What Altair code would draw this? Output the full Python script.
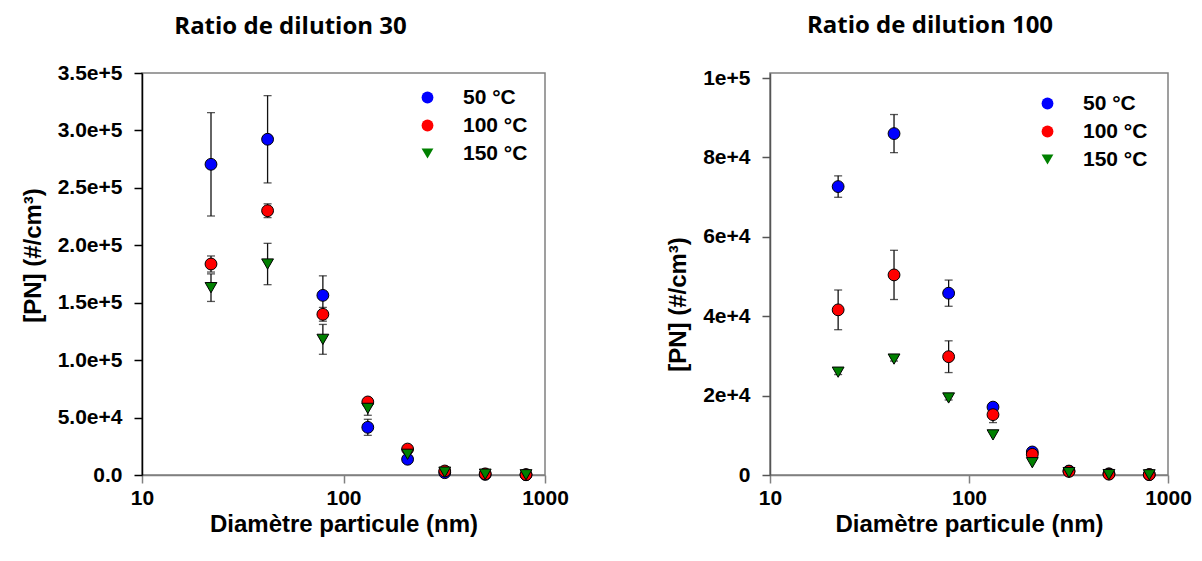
import altair as alt
import pandas as pd

# ---------------- data ----------------
diam = [22, 42, 79, 132, 208, 318, 505, 805]
series = ["50 °C", "100 °C", "150 °C"]
colors = ["#0000ff", "#ff0000", "#008000"]
shapes = ["circle", "circle", "triangle-down"]

# Ratio de dilution 30
dr30_50 = [270500, 292300, 156400, 41500, 13700, 2000, 500, 200]
dr30_100 = [183700, 230100, 139900, 63600, 22600, 3500, 1000, 300]
dr30_150 = [163100, 183700, 118100, 58000, 18000, 2500, 700, 200]
dr30_err50 = [45000, 38000, 17000, 7000, 2000, 0, 0, 0]
dr30_err100 = [7000, 6000, 6000, 3000, 1500, 0, 0, 0]
dr30_err150 = [12000, 18000, 13000, 6000, 0, 0, 0, 0]

# Ratio de dilution 100
dr100_50 = [72650, 86000, 45800, 17100, 5800, 1000, 300, 100]
dr100_100 = [41600, 50400, 29800, 15200, 5200, 900, 200, 100]
dr100_150 = [25900, 29200, 19400, 10100, 3100, 600, 100, 50]
dr100_err50 = [2700, 4800, 3300, 1000, 0, 0, 0, 0]
dr100_err100 = [5000, 6200, 4000, 2000, 0, 0, 0, 0]
dr100_err150 = [600, 500, 500, 0, 0, 0, 0, 0]

y30_ticks = [0, 50000, 100000, 150000, 200000, 250000, 300000, 350000]
y30_labels = ["0.0", "5.0e+4", "1.0e+5", "1.5e+5", "2.0e+5", "2.5e+5", "3.0e+5", "3.5e+5"]
y100_ticks = [0, 20000, 40000, 60000, 80000, 100000]
y100_labels = ["0", "2e+4", "4e+4", "6e+4", "8e+4", "1e+5"]
x_ticks = [10, 100, 1000]


def build_df(vals_list, errs_list):
    rows = []
    for i, (s, vals, errs) in enumerate(zip(series, vals_list, errs_list)):
        for d, v, e in zip(diam, vals, errs):
            rows.append(dict(d=d, v=v, lo=v - e, hi=v + e, err=e, serie=s, k=i))
    return pd.DataFrame(rows)


def label_expr(ticks, labels):
    expr = "''"
    for t, l in reversed(list(zip(ticks, labels))):
        expr = f"datum.value == {t} ? '{l}' : ({expr})"
    return expr


AX_FONT = "Liberation Sans"


def panel(df, title, ydom, yticks, ylabels, width, height, title_dx, title_dy,
          ydomain_color, leg_x, leg_y, ytitle_y):
    xscale = alt.Scale(type="log", domain=[10, 1000], nice=False)
    yscale = alt.Scale(domain=ydom, nice=False, zero=True)
    xaxis = alt.Axis(values=x_ticks, format="d", title="Diamètre particule (nm)",
                     domainColor="#808080", tickColor="#808080", labelPadding=4,
                     titlePadding=4, labelFlush=False)
    yaxis = alt.Axis(values=yticks, labelExpr=label_expr(yticks, ylabels),
                     title="[PN] (#/cm³)", domainColor=ydomain_color,
                     tickColor=ydomain_color, labelPadding=12, titlePadding=12,
                     titleY=ytitle_y)
    legend = alt.Legend(orient="none", legendX=leg_x, legendY=leg_y, title=None,
                        labelFont=AX_FONT, labelFontSize=21, labelFontWeight="bold",
                        labelColor="black", symbolSize=140, symbolStrokeColor="black",
                        symbolStrokeWidth=1, symbolOpacity=1, rowPadding=6,
                        labelOffset=25, padding=0)
    color = alt.Color("serie:N", scale=alt.Scale(domain=series, range=colors), legend=legend)
    shape = alt.Shape("serie:N", scale=alt.Scale(domain=series, range=shapes), legend=legend)

    errdf = df[df.err > 0]
    base_err = alt.Chart(errdf)
    rules = base_err.mark_rule(color="#111111", strokeWidth=1.3).encode(
        x=alt.X("d:Q", scale=xscale, axis=xaxis),
        y=alt.Y("lo:Q", scale=yscale, axis=yaxis),
        y2="hi:Q",
    )
    cap_lo = base_err.mark_tick(orient="horizontal", size=8, thickness=1.3, color="#111111").encode(
        x=alt.X("d:Q", scale=xscale, axis=xaxis),
        y=alt.Y("lo:Q", scale=yscale, axis=yaxis),
    )
    cap_hi = base_err.mark_tick(orient="horizontal", size=8, thickness=1.3, color="#111111").encode(
        x=alt.X("d:Q", scale=xscale, axis=xaxis),
        y=alt.Y("hi:Q", scale=yscale, axis=yaxis),
    )
    pts = alt.Chart(df).mark_point(filled=True, size=140, stroke="black", strokeWidth=1,
                                   opacity=1).encode(
        x=alt.X("d:Q", scale=xscale, axis=xaxis),
        y=alt.Y("v:Q", scale=yscale, axis=yaxis),
        color=color,
        shape=shape,
        order=alt.Order("k:Q"),
    )
    return alt.layer(rules, cap_lo, cap_hi, pts).properties(
        width=width, height=height,
        title=alt.Title(title, font="Open Sans", fontSize=24, fontWeight="bold",
                        anchor="middle", frame="group", dx=title_dx, dy=title_dy,
                        offset=23, color="black"),
    )


df30 = build_df([dr30_50, dr30_100, dr30_150], [dr30_err50, dr30_err100, dr30_err150])
df100 = build_df([dr100_50, dr100_100, dr100_150], [dr100_err50, dr100_err100, dr100_err150])

left = panel(df30, "Ratio de dilution 30", [0, 350000], y30_ticks, y30_labels,
             403, 402, -53, 0, "black", 275, 14, 182)
right = panel(df100, "Ratio de dilution 100", [0, 101260], y100_ticks, y100_labels,
              398, 402, -39, -6, "#555555", 267, 20, 231)

chart = alt.hconcat(left, right, spacing=95).resolve_scale(
    x="independent", y="independent", color="independent", shape="independent"
).resolve_legend(color="independent", shape="independent").properties(
    padding={"left": 12, "top": 5, "right": 0, "bottom": 5}
).configure_view(
    stroke="#808080", strokeWidth=1.5
).configure_axis(
    grid=False, tickSize=8, tickWidth=1.5, domainWidth=1.5,
    labelFont=AX_FONT, labelFontSize=21, labelFontWeight="bold", labelColor="black",
    titleFont=AX_FONT, titleFontSize=24, titleFontWeight="bold", titleColor="black",
)

chart.save("out.html", embed_options={"renderer": "svg", "actions": False})
